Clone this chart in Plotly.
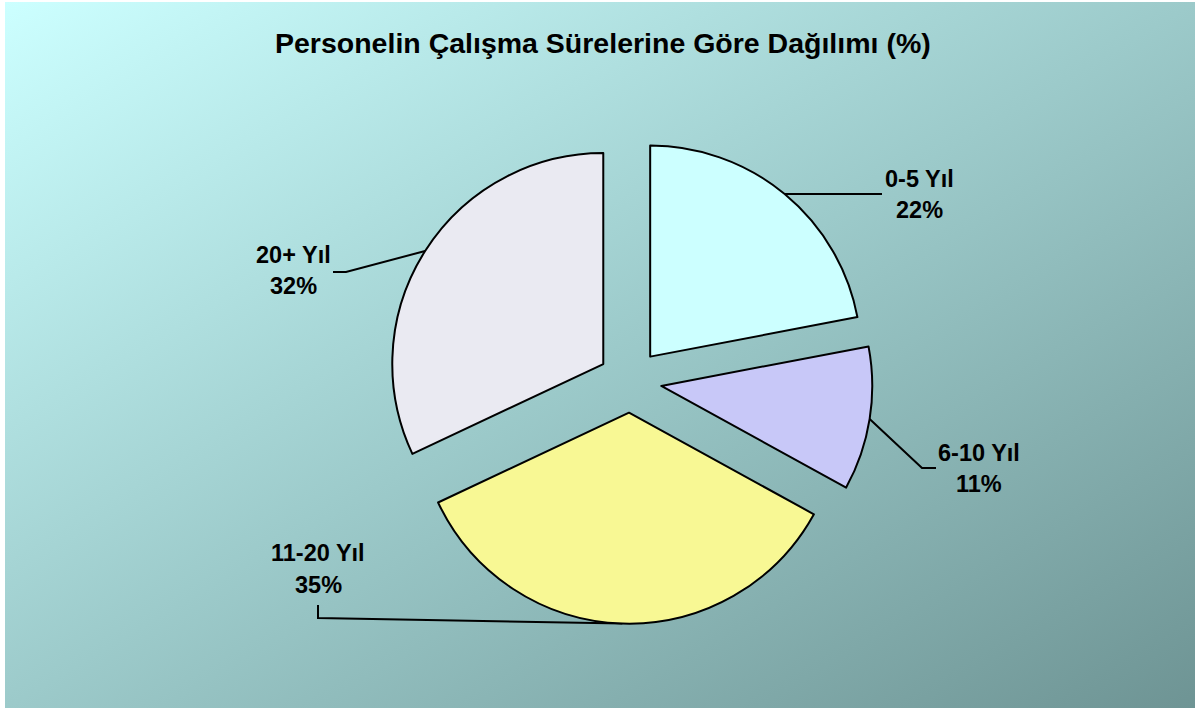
import base64
import math
import plotly.graph_objects as go

# ---------------- data ----------------
categories = ["0-5 Yıl", "6-10 Yıl", "11-20 Yıl", "20+ Yıl"]
values = [22, 11, 35, 32]
slice_colors = ["#CCFFFF", "#C8C8F8", "#F8F894", "#EAEAF2"]
chart_title = "Personelin Çalışma Sürelerine Göre Dağılımı (%)"

# ---------------- layout constants (pixels) ----------------
W, H = 1198, 713
CX, CY, R, PULL = 630, 381, 211, 0.15
FONT = "Liberation Sans, Arial, Helvetica, sans-serif"

# label placement per category: text centre x, name y, percent y, leader path after start
label_layout = {
    "0-5 Yıl":   dict(tx=919, ny=179, py=210, path=[(882, 194)]),
    "6-10 Yıl":  dict(tx=979, ny=453, py=484, path=[(922, 468), (936, 468)]),
    "11-20 Yıl": dict(tx=318, ny=553, py=585, path=[(318, 618), (318, 605)]),
    "20+ Yıl":   dict(tx=293, ny=255, py=286, path=[(346, 272), (333, 272)]),
}

# ---------------- background gradient ----------------
svg = f'''<svg xmlns="http://www.w3.org/2000/svg" width="{W}" height="{H}" viewBox="0 0 {W} {H}" preserveAspectRatio="none">
<defs><linearGradient id="g" x1="0" y1="0" x2="1" y2="1">
<stop offset="0" stop-color="#CCFFFF"/>
<stop offset="0.5" stop-color="#9CCACA"/>
<stop offset="1" stop-color="#6E9494"/>
</linearGradient></defs>
<rect x="0" y="0" width="{W}" height="{H}" fill="#FFFFFF"/>
<rect x="5" y="2" width="{W-8}" height="{H-7}" fill="url(#g)"/>
</svg>'''
bg_src = "data:image/svg+xml;base64," + base64.b64encode(svg.encode("utf-8")).decode("ascii")

ext = R * (1 + PULL)
domain_x = [(CX - ext) / W, (CX + ext) / W]
domain_y = [1 - (CY + ext) / H, 1 - (CY - ext) / H]

fig = go.Figure()
fig.add_trace(go.Pie(
    labels=categories,
    values=values,
    sort=False,
    direction="clockwise",
    rotation=0,
    pull=[PULL] * len(values),
    marker=dict(colors=slice_colors, line=dict(color="#000000", width=2)),
    textinfo="none",
    hoverinfo="label+percent",
    showlegend=False,
    domain=dict(x=domain_x, y=domain_y),
))

# leader lines and labels derived from the data (slice mid-angles)
total = sum(values)
cum = 0
annotations = []
for cat, v in zip(categories, values):
    mid = (cum + v / 2) / total * 2 * math.pi
    cum += v
    sx, sy = math.sin(mid), -math.cos(mid)
    ax = CX + PULL * R * sx
    ay = CY + PULL * R * sy
    start = (ax + R * sx, ay + R * sy)
    lay = label_layout[cat]
    pts = [start] + lay["path"]
    fig.add_trace(go.Scatter(
        x=[p[0] for p in pts], y=[p[1] for p in pts],
        mode="lines", line=dict(color="#000000", width=2),
        hoverinfo="skip", showlegend=False,
    ))
    pct = round(v / total * 100)
    annotations.append(dict(x=lay["tx"], y=lay["ny"], xref="x", yref="y",
                            text=f"<b>{cat}</b>", showarrow=False,
                            font=dict(family=FONT, size=23.5, color="#000000"),
                            xanchor="center", yanchor="middle"))
    annotations.append(dict(x=lay["tx"], y=lay["py"], xref="x", yref="y",
                            text=f"<b>{pct}%</b>", showarrow=False,
                            font=dict(family=FONT, size=23.5, color="#000000"),
                            xanchor="center", yanchor="middle"))

annotations.append(dict(x=603, y=43, xref="x", yref="y",
                        text=f"<b>{chart_title}</b>", showarrow=False,
                        font=dict(family=FONT, size=28.5, color="#000000"),
                        xanchor="center", yanchor="middle"))

fig.update_layout(
    width=W, height=H,
    margin=dict(l=0, r=0, t=0, b=0),
    paper_bgcolor="#FFFFFF",
    plot_bgcolor="rgba(0,0,0,0)",
    xaxis=dict(range=[0, W], visible=False, fixedrange=True),
    yaxis=dict(range=[H, 0], visible=False, fixedrange=True),
    images=[dict(source=bg_src, xref="paper", yref="paper", x=0, y=1,
                 sizex=1, sizey=1, xanchor="left", yanchor="top",
                 sizing="stretch", layer="below")],
    annotations=annotations,
    showlegend=False,
)

fig.write_html("out.html",
               config={"displayModeBar": False},
               post_script="document.body.style.margin='0px';document.body.style.overflow='hidden';")
